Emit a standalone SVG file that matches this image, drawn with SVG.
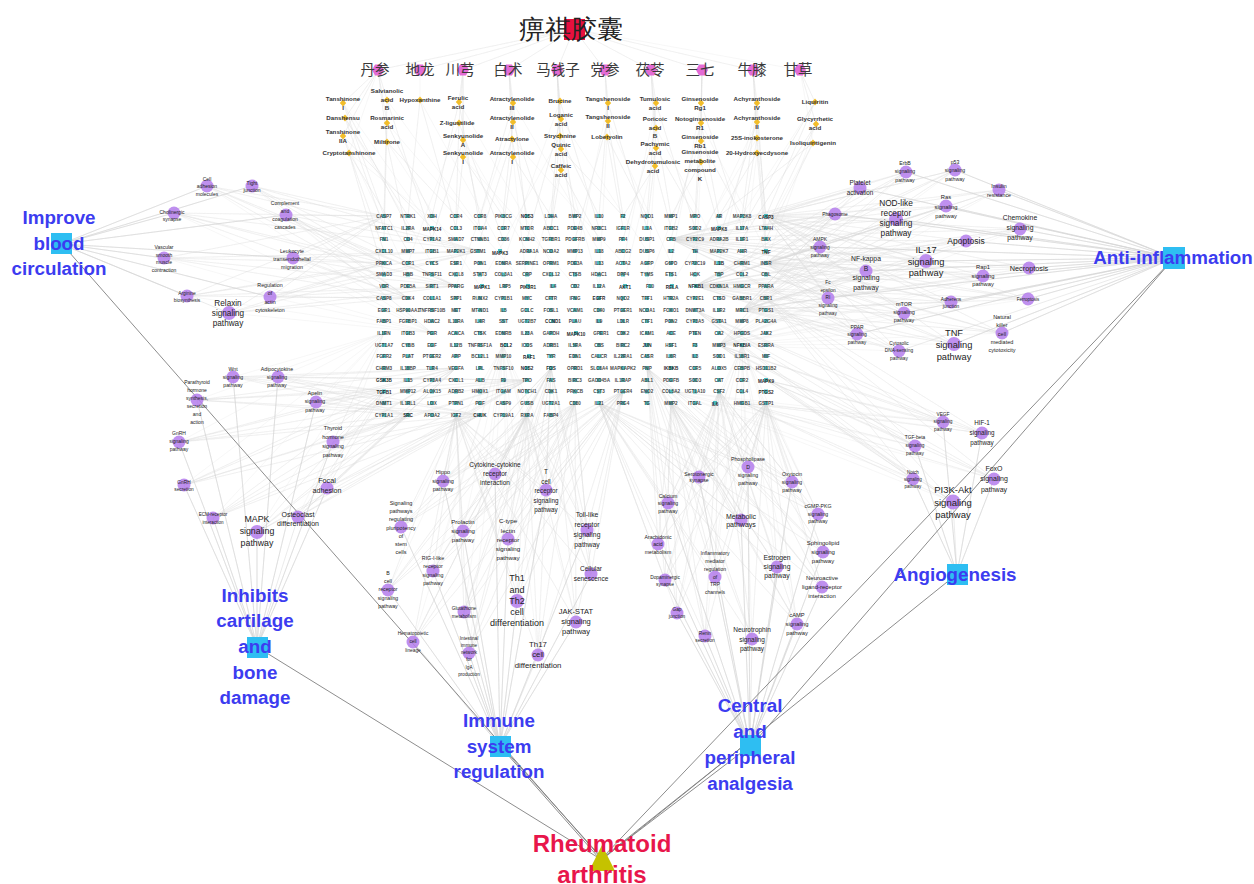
<svg xmlns="http://www.w3.org/2000/svg" width="1254" height="884" viewBox="0 0 1254 884">
<style>
text{font-family:"Liberation Sans",Arial,sans-serif}
.w{fill:none;stroke:#dadada;stroke-width:.35;opacity:.65}
.wc{fill:none;stroke:#d2d2d2;stroke-width:.45}
.m{fill:none;stroke:#808080;stroke-width:.9}
.cat text{font-weight:bold;font-size:18.8px;fill:#3c3cf0;text-anchor:middle}
.cat rect{fill:#2ebef2}
.herb text{font-family:"Noto Sans CJK SC",sans-serif;font-size:14.5px;fill:#3a3a3a;text-anchor:middle}
.herb use{fill:#e36bd5}
.cp text{font-weight:bold;font-size:6.2px;fill:#333;text-anchor:middle}
.cp use{fill:#f2bd2a}
.pw text{fill:#222;text-anchor:middle}
.pw circle{fill:#b47cec;fill-opacity:.85}
.gn text{font-size:4.6px;font-weight:bold;fill:#4a4a4a;text-anchor:middle}
.gn text.h{fill:#2a2a2a}
.gn use{fill:#2fb3b6;opacity:.85}
</style>
<defs>
<polygon id="hx" points="-6,0 -3,-5.5 3,-5.5 6,0 3,5.5 -3,5.5"/>
<path id="cd" d="M0-3.6 3.2 0 0 3.6-3.2 0Z"/>
<rect id="gm" x="-2" y="-2" width="4" height="4"/>
</defs>
<rect width="1254" height="884" fill="#fff"/>
<g id="connectors">
<path class="w" d="M574 29 378 70 574 29 420 70 574 29 463 70 574 29 509 70 574 29 557 70 574 29 605 70 574 29 651 70 574 29 702 70 574 29 753 70 574 29 800 70"/>
<path class="w" d="M378 70 343 103 378 70 387 100 378 70 345 118 378 70 387 123 378 70 343 136 378 70 387 142 378 70 349 153M420 70 420 100M463 70 459 102 463 70 459 123 463 70 463 140 463 70 463 157M509 70 513 103 509 70 513 122 509 70 512 139 509 70 513 157M557 70 560 101 557 70 561 119 557 70 560 136 557 70 561 149 557 70 561 170M605 70 608 103 605 70 608 121 605 70 607 137M651 70 656 103 651 70 656 128 651 70 656 148 651 70 655 166M702 70 701 103 702 70 701 123 702 70 701 141 702 70 701 162M753 70 757 103 753 70 757 122 753 70 757 138 753 70 757 153M800 70 815 102 800 70 816 124 800 70 813 143"/>
<path class="w" d="M343 103 384 216 343 103 408 228 343 103 456 263M387 100 384 216 387 100 432 239 387 100 480 228M420 100 408 216 420 100 456 228 420 100 503 251M345 118 384 228 345 118 408 216 345 118 432 263M387 123 384 239 387 123 432 216 387 123 527 286M343 136 384 251 343 136 432 228 343 136 408 274M387 142 408 239 387 142 456 216 387 142 480 286M349 153 384 274 349 153 408 251 349 153 456 239M459 102 432 216 459 102 480 228 459 102 551 263M459 123 456 216 459 123 503 239 459 123 408 263M463 140 480 216 463 140 432 239 463 140 527 251M463 157 456 228 463 157 503 216 463 157 575 286M513 103 480 216 513 103 527 228 513 103 599 251M513 122 503 216 513 122 551 239 513 122 456 286M512 139 527 216 512 139 480 239 512 139 623 263M513 157 551 216 513 157 503 228 513 157 527 286M560 101 551 216 560 101 599 228 560 101 503 263M561 119 575 216 561 119 527 239 561 119 647 251M560 136 599 216 560 136 551 228 560 136 480 286M561 149 575 228 561 149 623 216 561 149 599 286M561 170 551 228 561 170 599 239 561 170 527 286M608 103 599 216 608 103 647 228 608 103 575 263M608 121 623 216 608 121 575 239 608 121 671 263M607 137 623 228 607 137 647 216 607 137 599 286M656 103 647 216 656 103 695 228 656 103 623 263M656 128 671 216 656 128 623 239 656 128 719 251M656 148 647 228 656 148 695 216 656 148 623 286M655 166 671 228 655 166 623 216 655 166 647 286M701 103 695 216 701 103 742 228 701 103 671 263M701 123 719 216 701 123 671 239 701 123 766 251M701 141 695 228 701 141 742 216 701 141 647 286M701 162 719 228 701 162 671 216 701 162 695 286M757 103 742 216 757 103 766 228 757 103 719 263M757 122 766 216 757 122 719 239 757 122 695 251M757 138 742 228 757 138 766 239 757 138 671 286M757 153 719 216 757 153 766 251 757 153 742 274M815 102 766 216 815 102 742 228 815 102 719 251M816 124 766 228 816 124 742 239 816 124 766 263M813 143 766 239 813 143 719 216 813 143 742 274"/>
<path class="w" d="M207 186 384 216 207 186 384 263 207 186 408 298 207 186 456 286 207 186 480 251 207 186 432 333M252 186 384 216 252 186 384 263 252 186 408 298 252 186 456 286 252 186 480 251 252 186 432 333M174 213 384 216 174 213 384 263 174 213 408 298 174 213 456 286 174 213 480 251 174 213 432 333M286 215 384 216 286 215 384 263 286 215 408 298 286 215 456 286 286 215 480 251 286 215 432 333M164 258 384 216 164 258 384 263 164 258 408 298 164 258 456 286 164 258 480 251 164 258 432 333M293 258 384 216 293 258 384 263 293 258 408 298 293 258 456 286 293 258 480 251 293 258 432 333M187 296 384 216 187 296 384 263 187 296 408 298 187 296 456 286 187 296 480 251 187 296 432 333M270 297 384 216 270 297 384 263 270 297 408 298 270 297 456 286 270 297 480 251 270 297 432 333M229 313 384 216 229 313 384 263 229 313 408 298 229 313 456 286 229 313 480 251 229 313 432 333"/>
<path class="w" d="M906 172 766 216 906 172 766 263 906 172 742 310 906 172 695 286 906 172 671 239 906 172 719 345M955 170 766 216 955 170 766 263 955 170 742 310 955 170 695 286 955 170 671 239 955 170 719 345M860 188 766 216 860 188 766 263 860 188 742 310 860 188 695 286 860 188 671 239 860 188 719 345M999 190 766 216 999 190 766 263 999 190 742 310 999 190 695 286 999 190 671 239 999 190 719 345M896 219 766 216 896 219 766 263 896 219 742 310 896 219 695 286 896 219 671 239 896 219 719 345M946 206 766 216 946 206 766 263 946 206 742 310 946 206 695 286 946 206 671 239 946 206 719 345M835 214 766 216 835 214 766 263 835 214 742 310 835 214 695 286 835 214 671 239 835 214 719 345M1020 229 766 216 1020 229 766 263 1020 229 742 310 1020 229 695 286 1020 229 671 239 1020 229 719 345M820 247 766 216 820 247 766 263 820 247 742 310 820 247 695 286 820 247 671 239 820 247 719 345M966 241 766 216 966 241 766 263 966 241 742 310 966 241 695 286 966 241 671 239 966 241 719 345M926 261 766 216 926 261 766 263 926 261 742 310 926 261 695 286 926 261 671 239 926 261 719 345M866 271 766 216 866 271 766 263 866 271 742 310 866 271 695 286 866 271 671 239 866 271 719 345M983 276 766 216 983 276 766 263 983 276 742 310 983 276 695 286 983 276 671 239 983 276 719 345M1029 268 766 216 1029 268 766 263 1029 268 742 310 1029 268 695 286 1029 268 671 239 1029 268 719 345M828 298 766 216 828 298 766 263 828 298 742 310 828 298 695 286 828 298 671 239 828 298 719 345M951 302 766 216 951 302 766 263 951 302 742 310 951 302 695 286 951 302 671 239 951 302 719 345M1028 299 766 216 1028 299 766 263 1028 299 742 310 1028 299 695 286 1028 299 671 239 1028 299 719 345M904 313 766 216 904 313 766 263 904 313 742 310 904 313 695 286 904 313 671 239 904 313 719 345M1002 333 766 216 1002 333 766 263 1002 333 742 310 1002 333 695 286 1002 333 671 239 1002 333 719 345M857 334 766 216 857 334 766 263 857 334 742 310 857 334 695 286 857 334 671 239 857 334 719 345M954 344 766 216 954 344 766 263 954 344 742 310 954 344 695 286 954 344 671 239 954 344 719 345M899 351 766 216 899 351 766 263 899 351 742 310 899 351 695 286 899 351 671 239 899 351 719 345"/>
<path class="w" d="M233 377 384 391 233 377 408 415 233 377 480 415 233 377 456 368 233 377 527 380 233 377 384 333M278 377 384 391 278 377 408 415 278 377 480 415 278 377 456 368 278 377 527 380 278 377 384 333M197 400 384 391 197 400 408 415 197 400 480 415 197 400 456 368 197 400 527 380 197 400 384 333M316 402 384 391 316 402 408 415 316 402 480 415 316 402 456 368 316 402 527 380 316 402 384 333M333 442 384 391 333 442 408 415 333 442 480 415 333 442 456 368 333 442 527 380 333 442 384 333M179 442 384 391 179 442 408 415 179 442 480 415 179 442 456 368 179 442 527 380 179 442 384 333M184 485 384 391 184 485 408 415 184 485 480 415 184 485 456 368 184 485 527 380 184 485 384 333M327 488 384 391 327 488 408 415 327 488 480 415 327 488 456 368 327 488 527 380 327 488 384 333M213 518 384 391 213 518 408 415 213 518 480 415 213 518 456 368 213 518 527 380 213 518 384 333M257 532 384 391 257 532 408 415 257 532 480 415 257 532 456 368 257 532 527 380 257 532 384 333M298 517 384 391 298 517 408 415 298 517 480 415 298 517 456 368 298 517 527 380 298 517 384 333"/>
<path class="w" d="M443 481 456 415 443 481 527 415 443 481 575 403 443 481 623 391 443 481 551 368 443 481 503 345M495 474 456 415 495 474 527 415 495 474 575 403 495 474 623 391 495 474 551 368 495 474 503 345M546 490 456 415 546 490 527 415 546 490 575 403 546 490 623 391 546 490 551 368 546 490 503 345M401 527 456 415 401 527 527 415 401 527 575 403 401 527 623 391 401 527 551 368 401 527 503 345M463 531 456 415 463 531 527 415 463 531 575 403 463 531 623 391 463 531 551 368 463 531 503 345M508 539 456 415 508 539 527 415 508 539 575 403 508 539 623 391 508 539 551 368 508 539 503 345M587 530 456 415 587 530 527 415 587 530 575 403 587 530 623 391 587 530 551 368 587 530 503 345M433 571 456 415 433 571 527 415 433 571 575 403 433 571 623 391 433 571 551 368 433 571 503 345M388 590 456 415 388 590 527 415 388 590 575 403 388 590 623 391 388 590 551 368 388 590 503 345M591 574 456 415 591 574 527 415 591 574 575 403 591 574 623 391 591 574 551 368 591 574 503 345M517 601 456 415 517 601 527 415 517 601 575 403 517 601 623 391 517 601 551 368 517 601 503 345M464 612 456 415 464 612 527 415 464 612 575 403 464 612 623 391 464 612 551 368 464 612 503 345M576 622 456 415 576 622 527 415 576 622 575 403 576 622 623 391 576 622 551 368 576 622 503 345M413 642 456 415 413 642 527 415 413 642 575 403 413 642 623 391 413 642 551 368 413 642 503 345M469 653 456 415 469 653 527 415 469 653 575 403 469 653 623 391 469 653 551 368 469 653 503 345M538 655 456 415 538 655 527 415 538 655 575 403 538 655 623 391 538 655 551 368 538 655 503 345"/>
<path class="w" d="M748 467 599 403 748 467 671 403 748 467 719 391 748 467 766 403 748 467 647 368 748 467 742 345M699 477 599 403 699 477 671 403 699 477 719 391 699 477 766 403 699 477 647 368 699 477 742 345M792 482 599 403 792 482 671 403 792 482 719 391 792 482 766 403 792 482 647 368 792 482 742 345M668 503 599 403 668 503 671 403 668 503 719 391 668 503 766 403 668 503 647 368 668 503 742 345M818 514 599 403 818 514 671 403 818 514 719 391 818 514 766 403 818 514 647 368 818 514 742 345M741 520 599 403 741 520 671 403 741 520 719 391 741 520 766 403 741 520 647 368 741 520 742 345M658 544 599 403 658 544 671 403 658 544 719 391 658 544 766 403 658 544 647 368 658 544 742 345M823 552 599 403 823 552 671 403 823 552 719 391 823 552 766 403 823 552 647 368 823 552 742 345M715 577 599 403 715 577 671 403 715 577 719 391 715 577 766 403 715 577 647 368 715 577 742 345M777 567 599 403 777 567 671 403 777 567 719 391 777 567 766 403 777 567 647 368 777 567 742 345M665 580 599 403 665 580 671 403 665 580 719 391 665 580 766 403 665 580 647 368 665 580 742 345M822 587 599 403 822 587 671 403 822 587 719 391 822 587 766 403 822 587 647 368 822 587 742 345M677 613 599 403 677 613 671 403 677 613 719 391 677 613 766 403 677 613 647 368 677 613 742 345M797 624 599 403 797 624 671 403 797 624 719 391 797 624 766 403 797 624 647 368 797 624 742 345M705 636 599 403 705 636 671 403 705 636 719 391 705 636 766 403 705 636 647 368 705 636 742 345M752 639 599 403 752 639 671 403 752 639 719 391 752 639 766 403 752 639 647 368 752 639 742 345"/>
<path class="w" d="M943 422 766 380 943 422 742 403 943 422 719 345 943 422 695 310 943 422 766 298 943 422 671 391M982 433 766 380 982 433 742 403 982 433 719 345 982 433 695 310 982 433 766 298 982 433 671 391M915 446 766 380 915 446 742 403 915 446 719 345 915 446 695 310 915 446 766 298 915 446 671 391M994 479 766 380 994 479 742 403 994 479 719 345 994 479 695 310 994 479 766 298 994 479 671 391M913 479 766 380 913 479 742 403 913 479 719 345 913 479 695 310 913 479 766 298 913 479 671 391M953 502 766 380 953 502 742 403 953 502 719 345 953 502 695 310 953 502 766 298 953 502 671 391"/>
<path class="wc" d="M61 244 207 186 61 244 252 186 61 244 174 213 61 244 286 215 61 244 164 258 61 244 293 258 61 244 187 296 61 244 270 297 61 244 229 313"/>
<path class="wc" d="M1174 258 906 172 1174 258 955 170 1174 258 860 188 1174 258 999 190 1174 258 896 219 1174 258 946 206 1174 258 835 214 1174 258 1020 229 1174 258 820 247 1174 258 966 241 1174 258 926 261 1174 258 866 271 1174 258 983 276 1174 258 1029 268 1174 258 828 298 1174 258 951 302 1174 258 1028 299 1174 258 904 313 1174 258 1002 333 1174 258 857 334 1174 258 954 344 1174 258 899 351"/>
<path class="wc" d="M257 647 233 377 257 647 278 377 257 647 197 400 257 647 316 402 257 647 333 442 257 647 179 442 257 647 184 485 257 647 327 488 257 647 213 518 257 647 257 532 257 647 298 517"/>
<path class="wc" d="M500 746 443 481 500 746 495 474 500 746 546 490 500 746 401 527 500 746 463 531 500 746 508 539 500 746 587 530 500 746 433 571 500 746 388 590 500 746 591 574 500 746 517 601 500 746 464 612 500 746 576 622 500 746 413 642 500 746 469 653 500 746 538 655"/>
<path class="wc" d="M750 746 748 467 750 746 699 477 750 746 792 482 750 746 668 503 750 746 818 514 750 746 741 520 750 746 658 544 750 746 823 552 750 746 715 577 750 746 777 567 750 746 665 580 750 746 822 587 750 746 677 613 750 746 797 624 750 746 705 636 750 746 752 639"/>
<path class="wc" d="M957 574 943 422 957 574 982 433 957 574 915 446 957 574 994 479 957 574 913 479 957 574 953 502"/>
<path class="m" d="M62 244 601 858M257 647 602 860M500 746 599 858M504 749 602 858M750 746 603 858M747 743 605 856M957 574 604 858M1174 258 604 856M1174 258 751 746"/>
</g>
<g id="n-title"><rect x="564" y="19" width="21" height="21" fill="#e8103f"/><text x="571" y="37.5" font-family="'Noto Sans CJK SC',sans-serif" font-size="25.5" fill="#222" text-anchor="middle">痹祺胶囊</text></g>
<g class="herb">
<g id="h-danshen"><use href="#hx" x="378" y="70"/><text x="375" y="75">丹参</text></g>
<g id="h-dilong"><use href="#hx" x="420" y="70"/><text x="420" y="75">地龙</text></g>
<g id="h-chuanxiong"><use href="#hx" x="463" y="70"/><text x="460" y="75">川芎</text></g>
<g id="h-baizhu"><use href="#hx" x="509" y="70"/><text x="508" y="75">白术</text></g>
<g id="h-maqianzi"><use href="#hx" x="557" y="70"/><text x="558" y="75">马钱子</text></g>
<g id="h-dangshen"><use href="#hx" x="605" y="70"/><text x="605" y="75">党参</text></g>
<g id="h-fuling"><use href="#hx" x="651" y="70"/><text x="650" y="75">茯苓</text></g>
<g id="h-sanqi"><use href="#hx" x="702" y="70"/><text x="700" y="75">三七</text></g>
<g id="h-niuxi"><use href="#hx" x="753" y="70"/><text x="752" y="75">牛膝</text></g>
<g id="h-gancao"><use href="#hx" x="800" y="70"/><text x="798" y="75">甘草</text></g>
</g>
<g class="cp">
<g id="k1"><use href="#cd" x="343" y="103"/><text x="343" y="101.2">Tanshinone<tspan x="343" dy="8.5">I</tspan></text></g>
<g id="k2"><use href="#cd" x="387" y="100"/><text x="387" y="93.2">Salvianolic<tspan x="387" dy="8.5">acid</tspan><tspan x="387" dy="8.5">B</tspan></text></g>
<g id="k3"><use href="#cd" x="420" y="100"/><text x="420" y="102.2">Hypoxanthine</text></g>
<g id="k4"><use href="#cd" x="345" y="118"/><text x="343" y="120.2">Danshensu</text></g>
<g id="k5"><use href="#cd" x="387" y="123"/><text x="387" y="120.2">Rosmarinic<tspan x="387" dy="8.5">acid</tspan></text></g>
<g id="k6"><use href="#cd" x="343" y="136"/><text x="343" y="134.2">Tanshinone<tspan x="343" dy="8.5">IIA</tspan></text></g>
<g id="k7"><use href="#cd" x="387" y="142"/><text x="387" y="144.2">Miltirone</text></g>
<g id="k8"><use href="#cd" x="349" y="153"/><text x="349" y="155.2">Cryptotanshinone</text></g>
<g id="k9"><use href="#cd" x="459" y="102"/><text x="458" y="100.2">Ferulic<tspan x="458" dy="8.5">acid</tspan></text></g>
<g id="k10"><use href="#cd" x="459" y="123"/><text x="457" y="125.2">Z-ligustilide</text></g>
<g id="k11"><use href="#cd" x="463" y="140"/><text x="463" y="138.2">Senkyunolide<tspan x="463" dy="8.5">A</tspan></text></g>
<g id="k12"><use href="#cd" x="463" y="157"/><text x="463" y="155.2">Senkyunolide<tspan x="463" dy="8.5">I</tspan></text></g>
<g id="k13"><use href="#cd" x="513" y="103"/><text x="512" y="101.2">Atractylenolide<tspan x="512" dy="8.5">III</tspan></text></g>
<g id="k14"><use href="#cd" x="513" y="122"/><text x="512" y="120.2">Atractylenolide<tspan x="512" dy="8.5">II</tspan></text></g>
<g id="k15"><use href="#cd" x="512" y="139"/><text x="512" y="141.2">Atractylone</text></g>
<g id="k16"><use href="#cd" x="513" y="157"/><text x="512" y="155.2">Atractylenolide<tspan x="512" dy="8.5">I</tspan></text></g>
<g id="k17"><use href="#cd" x="560" y="101"/><text x="560" y="103.2">Brucine</text></g>
<g id="k18"><use href="#cd" x="561" y="119"/><text x="561" y="117.2">Loganic<tspan x="561" dy="8.5">acid</tspan></text></g>
<g id="k19"><use href="#cd" x="560" y="136"/><text x="560" y="138.2">Strychnine</text></g>
<g id="k20"><use href="#cd" x="561" y="149"/><text x="561" y="147.2">Quinic<tspan x="561" dy="8.5">acid</tspan></text></g>
<g id="k21"><use href="#cd" x="561" y="170"/><text x="561" y="168.2">Caffeic<tspan x="561" dy="8.5">acid</tspan></text></g>
<g id="k22"><use href="#cd" x="608" y="103"/><text x="608" y="101.2">Tangshenoside<tspan x="608" dy="8.5">I</tspan></text></g>
<g id="k23"><use href="#cd" x="608" y="121"/><text x="608" y="119.2">Tangshenoside<tspan x="608" dy="8.5">II</tspan></text></g>
<g id="k24"><use href="#cd" x="607" y="137"/><text x="607" y="139.2">Lobetyolin</text></g>
<g id="k25"><use href="#cd" x="656" y="103"/><text x="655" y="101.2">Tumulosic<tspan x="655" dy="8.5">acid</tspan></text></g>
<g id="k26"><use href="#cd" x="656" y="128"/><text x="655" y="121.2">Poricoic<tspan x="655" dy="8.5">acid</tspan><tspan x="655" dy="8.5">B</tspan></text></g>
<g id="k27"><use href="#cd" x="656" y="148"/><text x="655" y="146.2">Pachymic<tspan x="655" dy="8.5">acid</tspan></text></g>
<g id="k28"><use href="#cd" x="655" y="166"/><text x="653" y="164.2">Dehydrotumulosic<tspan x="653" dy="8.5">acid</tspan></text></g>
<g id="k29"><use href="#cd" x="701" y="103"/><text x="700" y="101.2">Ginsenoside<tspan x="700" dy="8.5">Rg1</tspan></text></g>
<g id="k30"><use href="#cd" x="701" y="123"/><text x="700" y="121.2">Notoginsenoside<tspan x="700" dy="8.5">R1</tspan></text></g>
<g id="k31"><use href="#cd" x="701" y="141"/><text x="700" y="139.2">Ginsenoside<tspan x="700" dy="8.5">Rb1</tspan></text></g>
<g id="k32"><use href="#cd" x="701" y="162"/><text x="700" y="154.2">Ginsenoside<tspan x="700" dy="8.8">metabolite</tspan><tspan x="700" dy="8.8">compound</tspan><tspan x="700" dy="8.8">K</tspan></text></g>
<g id="k33"><use href="#cd" x="757" y="103"/><text x="757" y="101.2">Achyranthoside<tspan x="757" dy="8.5">IV</tspan></text></g>
<g id="k34"><use href="#cd" x="757" y="122"/><text x="757" y="120.2">Achyranthoside<tspan x="757" dy="8.5">II</tspan></text></g>
<g id="k35"><use href="#cd" x="757" y="138"/><text x="757" y="140.2">25S-inokosterone</text></g>
<g id="k36"><use href="#cd" x="757" y="153"/><text x="757" y="155.2">20-Hydroxyecdysone</text></g>
<g id="k37"><use href="#cd" x="815" y="102"/><text x="815" y="104.2">Liquiritin</text></g>
<g id="k38"><use href="#cd" x="816" y="124"/><text x="815" y="121.2">Glycyrrhetic<tspan x="815" dy="8.5">acid</tspan></text></g>
<g id="k39"><use href="#cd" x="813" y="143"/><text x="813" y="145.2">Isoliquiritigenin</text></g>
</g>
<g class="gn">
<g id="g-CASP7"><use href="#gm" x="384" y="216"/><text x="384" y="217.6">CASP7</text></g>
<g id="g-NTRK1"><use href="#gm" x="408" y="216"/><text x="408" y="217.6">NTRK1</text></g>
<g id="g-XDH"><use href="#gm" x="432" y="216"/><text x="432" y="217.6">XDH</text></g>
<g id="g-CCR4"><use href="#gm" x="456" y="216"/><text x="456" y="217.6">CCR4</text></g>
<g id="g-CCR8"><use href="#gm" x="480" y="216"/><text x="480" y="217.6">CCR8</text></g>
<g id="g-PIK3CG"><use href="#gm" x="503.5" y="216"/><text x="503.5" y="217.6">PIK3CG</text></g>
<g id="g-NOS3"><use href="#gm" x="527" y="216"/><text class="h" x="527" y="218.4" font-size="6.8">NOS3</text></g>
<g id="g-LDHA"><use href="#gm" x="551" y="216"/><text x="551" y="217.6">LDHA</text></g>
<g id="g-BMP2"><use href="#gm" x="575" y="216"/><text x="575" y="217.6">BMP2</text></g>
<g id="g-IL10"><use href="#gm" x="599" y="216"/><text x="599" y="217.6">IL10</text></g>
<g id="g-F2"><use href="#gm" x="623" y="216"/><text x="623" y="217.6">F2</text></g>
<g id="g-NQO1"><use href="#gm" x="647" y="216"/><text x="647" y="217.6">NQO1</text></g>
<g id="g-MMP1"><use href="#gm" x="671" y="216"/><text x="671" y="217.6">MMP1</text></g>
<g id="g-MPO"><use href="#gm" x="695" y="216"/><text x="695" y="217.6">MPO</text></g>
<g id="g-AR"><use href="#gm" x="719" y="216"/><text x="719" y="217.6">AR</text></g>
<g id="g-MAP3K8"><use href="#gm" x="742" y="216"/><text x="742" y="217.6">MAP3K8</text></g>
<g id="g-CASP3"><use href="#gm" x="766" y="216"/><text class="h" x="766" y="218.5" font-size="7">CASP3</text></g>
<g id="g-NFATC1"><use href="#gm" x="384" y="228"/><text x="384" y="229.6">NFATC1</text></g>
<g id="g-IL2RA"><use href="#gm" x="408" y="228"/><text x="408" y="229.6">IL2RA</text></g>
<g id="g-MAPK14"><use href="#gm" x="432" y="228"/><text class="h" x="432" y="230.7" font-size="7.4">MAPK14</text></g>
<g id="g-CCL3"><use href="#gm" x="456" y="228"/><text x="456" y="229.6">CCL3</text></g>
<g id="g-ITGA4"><use href="#gm" x="480" y="228"/><text x="480" y="229.6">ITGA4</text></g>
<g id="g-CCR7"><use href="#gm" x="503.5" y="228"/><text x="503.5" y="229.6">CCR7</text></g>
<g id="g-MTOR"><use href="#gm" x="527" y="228"/><text x="527" y="229.6">MTOR</text></g>
<g id="g-ABCC1"><use href="#gm" x="551" y="228"/><text x="551" y="229.6">ABCC1</text></g>
<g id="g-PDE4B"><use href="#gm" x="575" y="228"/><text x="575" y="229.6">PDE4B</text></g>
<g id="g-NR3C1"><use href="#gm" x="599" y="228"/><text x="599" y="229.6">NR3C1</text></g>
<g id="g-IGF1R"><use href="#gm" x="623" y="228"/><text x="623" y="229.6">IGF1R</text></g>
<g id="g-IL1A"><use href="#gm" x="647" y="228"/><text x="647" y="229.6">IL1A</text></g>
<g id="g-ITGB2"><use href="#gm" x="671" y="228"/><text x="671" y="229.6">ITGB2</text></g>
<g id="g-SOD2"><use href="#gm" x="695" y="228"/><text x="695" y="229.6">SOD2</text></g>
<g id="g-MAPK8"><use href="#gm" x="719" y="228"/><text class="h" x="719" y="230.9" font-size="8">MAPK8</text></g>
<g id="g-IL17A"><use href="#gm" x="742" y="228"/><text x="742" y="229.6">IL17A</text></g>
<g id="g-LTA4H"><use href="#gm" x="766" y="228"/><text x="766" y="229.6">LTA4H</text></g>
<g id="g-FN1"><use href="#gm" x="384" y="239"/><text x="384" y="240.6">FN1</text></g>
<g id="g-CD4"><use href="#gm" x="408" y="239"/><text x="408" y="240.6">CD4</text></g>
<g id="g-CYP1A2"><use href="#gm" x="432" y="239"/><text x="432" y="240.6">CYP1A2</text></g>
<g id="g-SMAD7"><use href="#gm" x="456" y="239"/><text x="456" y="240.6">SMAD7</text></g>
<g id="g-CTNNB1"><use href="#gm" x="480" y="239"/><text x="480" y="240.6">CTNNB1</text></g>
<g id="g-CD36"><use href="#gm" x="503.5" y="239"/><text x="503.5" y="240.6">CD36</text></g>
<g id="g-KCNH2"><use href="#gm" x="527" y="239"/><text x="527" y="240.6">KCNH2</text></g>
<g id="g-TGFBR1"><use href="#gm" x="551" y="239"/><text x="551" y="240.6">TGFBR1</text></g>
<g id="g-PDGFRB"><use href="#gm" x="575" y="239"/><text x="575" y="240.6">PDGFRB</text></g>
<g id="g-MMP9"><use href="#gm" x="599" y="239"/><text x="599" y="240.6">MMP9</text></g>
<g id="g-PF4"><use href="#gm" x="623" y="239"/><text x="623" y="240.6">PF4</text></g>
<g id="g-DUSP1"><use href="#gm" x="647" y="239"/><text x="647" y="240.6">DUSP1</text></g>
<g id="g-CFB"><use href="#gm" x="671" y="239"/><text x="671" y="240.6">CFB</text></g>
<g id="g-CYP2C9"><use href="#gm" x="695" y="239"/><text x="695" y="240.6">CYP2C9</text></g>
<g id="g-ADRA2B"><use href="#gm" x="719" y="239"/><text x="719" y="240.6">ADRA2B</text></g>
<g id="g-IL1R1"><use href="#gm" x="742" y="239"/><text x="742" y="240.6">IL1R1</text></g>
<g id="g-BAX"><use href="#gm" x="766" y="239"/><text x="766" y="240.6">BAX</text></g>
<g id="g-CXCL10"><use href="#gm" x="384" y="251"/><text x="384" y="252.6">CXCL10</text></g>
<g id="g-MMP7"><use href="#gm" x="408" y="251"/><text x="408" y="252.6">MMP7</text></g>
<g id="g-ITGB1"><use href="#gm" x="432" y="251"/><text x="432" y="252.6">ITGB1</text></g>
<g id="g-MAP2K1"><use href="#gm" x="456" y="251"/><text x="456" y="252.6">MAP2K1</text></g>
<g id="g-GSTM1"><use href="#gm" x="478" y="251"/><text x="478" y="252.6">GSTM1</text></g>
<g id="g-MAPK3"><use href="#gm" x="500" y="251"/><text class="h" x="500" y="254.6" font-size="10">MAPK3</text></g>
<g id="g-ADRA1A"><use href="#gm" x="529" y="251"/><text x="529" y="252.6">ADRA1A</text></g>
<g id="g-NCOA2"><use href="#gm" x="551" y="251"/><text x="551" y="252.6">NCOA2</text></g>
<g id="g-MMP13"><use href="#gm" x="575" y="251"/><text x="575" y="252.6">MMP13</text></g>
<g id="g-IL18"><use href="#gm" x="599" y="251"/><text x="599" y="252.6">IL18</text></g>
<g id="g-ABCG2"><use href="#gm" x="623" y="251"/><text x="623" y="252.6">ABCG2</text></g>
<g id="g-DUSP6"><use href="#gm" x="647" y="251"/><text x="647" y="252.6">DUSP6</text></g>
<g id="g-IL2"><use href="#gm" x="671" y="251"/><text x="671" y="252.6">IL2</text></g>
<g id="g-TH"><use href="#gm" x="695" y="251"/><text x="695" y="252.6">TH</text></g>
<g id="g-MAP2K7"><use href="#gm" x="719" y="251"/><text x="719" y="252.6">MAP2K7</text></g>
<g id="g-AHR"><use href="#gm" x="742" y="251"/><text x="742" y="252.6">AHR</text></g>
<g id="g-TNF"><use href="#gm" x="766" y="251"/><text class="h" x="766" y="253.9" font-size="8">TNF</text></g>
<g id="g-PRKCA"><use href="#gm" x="384" y="263"/><text x="384" y="264.6">PRKCA</text></g>
<g id="g-CCR1"><use href="#gm" x="408" y="263"/><text x="408" y="264.6">CCR1</text></g>
<g id="g-CYCS"><use href="#gm" x="432" y="263"/><text x="432" y="264.6">CYCS</text></g>
<g id="g-ESR1"><use href="#gm" x="456" y="263"/><text x="456" y="264.6">ESR1</text></g>
<g id="g-PON1"><use href="#gm" x="480" y="263"/><text x="480" y="264.6">PON1</text></g>
<g id="g-EDNRA"><use href="#gm" x="503.5" y="263"/><text x="503.5" y="264.6">EDNRA</text></g>
<g id="g-SERPINE1"><use href="#gm" x="527" y="263"/><text x="527" y="264.6">SERPINE1</text></g>
<g id="g-OPRM1"><use href="#gm" x="551" y="263"/><text x="551" y="264.6">OPRM1</text></g>
<g id="g-PDE3A"><use href="#gm" x="575" y="263"/><text x="575" y="264.6">PDE3A</text></g>
<g id="g-IL13"><use href="#gm" x="599" y="263"/><text x="599" y="264.6">IL13</text></g>
<g id="g-ACTA2"><use href="#gm" x="623" y="263"/><text x="623" y="264.6">ACTA2</text></g>
<g id="g-AGRP"><use href="#gm" x="647" y="263"/><text x="647" y="264.6">AGRP</text></g>
<g id="g-G6PD"><use href="#gm" x="671" y="263"/><text x="671" y="264.6">G6PD</text></g>
<g id="g-CYP2C19"><use href="#gm" x="695" y="263"/><text x="695" y="264.6">CYP2C19</text></g>
<g id="g-IL1B"><use href="#gm" x="719" y="263"/><text class="h" x="719" y="265.3" font-size="6.5">IL1B</text></g>
<g id="g-CHRM1"><use href="#gm" x="742" y="263"/><text x="742" y="264.6">CHRM1</text></g>
<g id="g-INSR"><use href="#gm" x="766" y="263"/><text x="766" y="264.6">INSR</text></g>
<g id="g-SMAD3"><use href="#gm" x="384" y="274.5"/><text x="384" y="276.1">SMAD3</text></g>
<g id="g-HBB"><use href="#gm" x="408" y="274.5"/><text x="408" y="276.1">HBB</text></g>
<g id="g-TNFSF11"><use href="#gm" x="432" y="274.5"/><text x="432" y="276.1">TNFSF11</text></g>
<g id="g-CXCL8"><use href="#gm" x="456" y="274.5"/><text x="456" y="276.1">CXCL8</text></g>
<g id="g-STAT3"><use href="#gm" x="480" y="274.5"/><text x="480" y="276.1">STAT3</text></g>
<g id="g-COL3A1"><use href="#gm" x="503.5" y="274.5"/><text x="503.5" y="276.1">COL3A1</text></g>
<g id="g-CRP"><use href="#gm" x="527" y="274.5"/><text x="527" y="276.1">CRP</text></g>
<g id="g-CXCL12"><use href="#gm" x="551" y="274.5"/><text x="551" y="276.1">CXCL12</text></g>
<g id="g-CTSB"><use href="#gm" x="575" y="274.5"/><text x="575" y="276.1">CTSB</text></g>
<g id="g-HDAC1"><use href="#gm" x="599" y="274.5"/><text x="599" y="276.1">HDAC1</text></g>
<g id="g-DPP4"><use href="#gm" x="623" y="274.5"/><text x="623" y="276.1">DPP4</text></g>
<g id="g-TYMS"><use href="#gm" x="647" y="274.5"/><text x="647" y="276.1">TYMS</text></g>
<g id="g-ETS1"><use href="#gm" x="671" y="274.5"/><text x="671" y="276.1">ETS1</text></g>
<g id="g-HCK"><use href="#gm" x="695" y="274.5"/><text x="695" y="276.1">HCK</text></g>
<g id="g-TBP"><use href="#gm" x="719" y="274.5"/><text x="719" y="276.1">TBP</text></g>
<g id="g-CCL2"><use href="#gm" x="742" y="274.5"/><text x="742" y="276.1">CCL2</text></g>
<g id="g-CBL"><use href="#gm" x="766" y="274.5"/><text x="766" y="276.1">CBL</text></g>
<g id="g-VDR"><use href="#gm" x="384" y="286"/><text x="384" y="287.6">VDR</text></g>
<g id="g-PDE5A"><use href="#gm" x="408" y="286"/><text x="408" y="287.6">PDE5A</text></g>
<g id="g-SIRT1"><use href="#gm" x="432" y="286"/><text x="432" y="287.6">SIRT1</text></g>
<g id="g-PPARG"><use href="#gm" x="456" y="286"/><text x="456" y="287.6">PPARG</text></g>
<g id="g-MAPK1"><use href="#gm" x="482" y="286"/><text class="h" x="482" y="289.1" font-size="8.5">MAPK1</text></g>
<g id="g-LRP5"><use href="#gm" x="505" y="286"/><text x="505" y="287.6">LRP5</text></g>
<g id="g-PIK3R1"><use href="#gm" x="528" y="286"/><text class="h" x="528" y="288.8" font-size="7.8">PIK3R1</text></g>
<g id="g-IL4"><use href="#gm" x="553" y="286"/><text x="553" y="287.6">IL4</text></g>
<g id="g-CD2"><use href="#gm" x="575" y="286"/><text x="575" y="287.6">CD2</text></g>
<g id="g-IL12A"><use href="#gm" x="599" y="286"/><text x="599" y="287.6">IL12A</text></g>
<g id="g-AKT1"><use href="#gm" x="625" y="286"/><text class="h" x="625" y="289.4" font-size="9.5">AKT1</text></g>
<g id="g-F10"><use href="#gm" x="650" y="286"/><text x="650" y="287.6">F10</text></g>
<g id="g-RELA"><use href="#gm" x="672" y="286"/><text class="h" x="672" y="289.1" font-size="8.5">RELA</text></g>
<g id="g-NFKB1"><use href="#gm" x="696" y="286"/><text class="h" x="696" y="288.3" font-size="6.5">NFKB1</text></g>
<g id="g-CDKN1A"><use href="#gm" x="719" y="286"/><text x="719" y="287.6">CDKN1A</text></g>
<g id="g-HMGCR"><use href="#gm" x="742" y="286"/><text x="742" y="287.6">HMGCR</text></g>
<g id="g-PPARA"><use href="#gm" x="766" y="286"/><text x="766" y="287.6">PPARA</text></g>
<g id="g-CASP8"><use href="#gm" x="384" y="298"/><text x="384" y="299.6">CASP8</text></g>
<g id="g-CDK4"><use href="#gm" x="408" y="298"/><text x="408" y="299.6">CDK4</text></g>
<g id="g-COL1A1"><use href="#gm" x="432" y="298"/><text x="432" y="299.6">COL1A1</text></g>
<g id="g-SPP1"><use href="#gm" x="456" y="298"/><text x="456" y="299.6">SPP1</text></g>
<g id="g-RUNX2"><use href="#gm" x="480" y="298"/><text x="480" y="299.6">RUNX2</text></g>
<g id="g-CYP1B1"><use href="#gm" x="503.5" y="298"/><text x="503.5" y="299.6">CYP1B1</text></g>
<g id="g-MYC"><use href="#gm" x="527" y="298"/><text x="527" y="299.6">MYC</text></g>
<g id="g-CFTR"><use href="#gm" x="551" y="298"/><text x="551" y="299.6">CFTR</text></g>
<g id="g-IFNG"><use href="#gm" x="575" y="298"/><text x="575" y="299.6">IFNG</text></g>
<g id="g-EGFR"><use href="#gm" x="599" y="298"/><text class="h" x="599" y="300.2" font-size="6.2">EGFR</text></g>
<g id="g-NQO2"><use href="#gm" x="623" y="298"/><text x="623" y="299.6">NQO2</text></g>
<g id="g-TFF1"><use href="#gm" x="647" y="298"/><text x="647" y="299.6">TFF1</text></g>
<g id="g-HTR2A"><use href="#gm" x="671" y="298"/><text x="671" y="299.6">HTR2A</text></g>
<g id="g-CYP2E1"><use href="#gm" x="695" y="298"/><text x="695" y="299.6">CYP2E1</text></g>
<g id="g-CTSD"><use href="#gm" x="719" y="298"/><text x="719" y="299.6">CTSD</text></g>
<g id="g-GABBR1"><use href="#gm" x="742" y="298"/><text x="742" y="299.6">GABBR1</text></g>
<g id="g-CBR1"><use href="#gm" x="766" y="298"/><text x="766" y="299.6">CBR1</text></g>
<g id="g-EGR1"><use href="#gm" x="384" y="310"/><text x="384" y="311.6">EGR1</text></g>
<g id="g-HSP90AA1"><use href="#gm" x="408" y="310"/><text x="408" y="311.6">HSP90AA1</text></g>
<g id="g-TNFRSF10B"><use href="#gm" x="432" y="310"/><text x="432" y="311.6">TNFRSF10B</text></g>
<g id="g-MET"><use href="#gm" x="456" y="310"/><text x="456" y="311.6">MET</text></g>
<g id="g-MT-ND1"><use href="#gm" x="480" y="310"/><text x="480" y="311.6">MT-ND1</text></g>
<g id="g-IL5"><use href="#gm" x="503.5" y="310"/><text x="503.5" y="311.6">IL5</text></g>
<g id="g-GCLC"><use href="#gm" x="527" y="310"/><text x="527" y="311.6">GCLC</text></g>
<g id="g-FOSL1"><use href="#gm" x="551" y="310"/><text x="551" y="311.6">FOSL1</text></g>
<g id="g-VCAM1"><use href="#gm" x="575" y="310"/><text x="575" y="311.6">VCAM1</text></g>
<g id="g-CD40"><use href="#gm" x="599" y="310"/><text x="599" y="311.6">CD40</text></g>
<g id="g-PTGER1"><use href="#gm" x="623" y="310"/><text x="623" y="311.6">PTGER1</text></g>
<g id="g-NCOA1"><use href="#gm" x="647" y="310"/><text x="647" y="311.6">NCOA1</text></g>
<g id="g-FOXO1"><use href="#gm" x="671" y="310"/><text x="671" y="311.6">FOXO1</text></g>
<g id="g-DNMT3A"><use href="#gm" x="695" y="310"/><text x="695" y="311.6">DNMT3A</text></g>
<g id="g-IL1R2"><use href="#gm" x="719" y="310"/><text x="719" y="311.6">IL1R2</text></g>
<g id="g-MRC1"><use href="#gm" x="742" y="310"/><text x="742" y="311.6">MRC1</text></g>
<g id="g-PTGS1"><use href="#gm" x="766" y="310"/><text x="766" y="311.6">PTGS1</text></g>
<g id="g-FABP1"><use href="#gm" x="384" y="321"/><text x="384" y="322.6">FABP1</text></g>
<g id="g-FGFBP1"><use href="#gm" x="408" y="321"/><text x="408" y="322.6">FGFBP1</text></g>
<g id="g-HDAC2"><use href="#gm" x="432" y="321"/><text x="432" y="322.6">HDAC2</text></g>
<g id="g-IL10RA"><use href="#gm" x="456" y="321"/><text x="456" y="322.6">IL10RA</text></g>
<g id="g-IL4R"><use href="#gm" x="480" y="321"/><text x="480" y="322.6">IL4R</text></g>
<g id="g-SST"><use href="#gm" x="503.5" y="321"/><text x="503.5" y="322.6">SST</text></g>
<g id="g-UGT2B7"><use href="#gm" x="527" y="321"/><text x="527" y="322.6">UGT2B7</text></g>
<g id="g-CCND1"><use href="#gm" x="553" y="321"/><text class="h" x="553" y="323.1" font-size="5.8">CCND1</text></g>
<g id="g-PLAU"><use href="#gm" x="575" y="321"/><text x="575" y="322.6">PLAU</text></g>
<g id="g-IL9"><use href="#gm" x="599" y="321"/><text x="599" y="322.6">IL9</text></g>
<g id="g-LDLR"><use href="#gm" x="623" y="321"/><text x="623" y="322.6">LDLR</text></g>
<g id="g-CTF1"><use href="#gm" x="647" y="321"/><text x="647" y="322.6">CTF1</text></g>
<g id="g-PON2"><use href="#gm" x="671" y="321"/><text x="671" y="322.6">PON2</text></g>
<g id="g-CYP3A5"><use href="#gm" x="695" y="321"/><text x="695" y="322.6">CYP3A5</text></g>
<g id="g-GSTA1"><use href="#gm" x="719" y="321"/><text x="719" y="322.6">GSTA1</text></g>
<g id="g-MMP8"><use href="#gm" x="742" y="321"/><text x="742" y="322.6">MMP8</text></g>
<g id="g-PLA2G4A"><use href="#gm" x="766" y="321"/><text x="766" y="322.6">PLA2G4A</text></g>
<g id="g-IL1RN"><use href="#gm" x="384" y="333"/><text x="384" y="334.6">IL1RN</text></g>
<g id="g-ITGB3"><use href="#gm" x="408" y="333"/><text x="408" y="334.6">ITGB3</text></g>
<g id="g-PGR"><use href="#gm" x="432" y="333"/><text x="432" y="334.6">PGR</text></g>
<g id="g-ACACA"><use href="#gm" x="456" y="333"/><text x="456" y="334.6">ACACA</text></g>
<g id="g-CTSK"><use href="#gm" x="480" y="333"/><text x="480" y="334.6">CTSK</text></g>
<g id="g-EDNRB"><use href="#gm" x="503.5" y="333"/><text x="503.5" y="334.6">EDNRB</text></g>
<g id="g-IL23A"><use href="#gm" x="527" y="333"/><text x="527" y="334.6">IL23A</text></g>
<g id="g-GAPDH"><use href="#gm" x="551" y="333"/><text x="551" y="334.6">GAPDH</text></g>
<g id="g-MAPK10"><use href="#gm" x="576" y="333"/><text class="h" x="576" y="335.7" font-size="7.5">MAPK10</text></g>
<g id="g-GPER1"><use href="#gm" x="601" y="333"/><text x="601" y="334.6">GPER1</text></g>
<g id="g-CDK2"><use href="#gm" x="623" y="333"/><text x="623" y="334.6">CDK2</text></g>
<g id="g-ICAM1"><use href="#gm" x="647" y="333"/><text x="647" y="334.6">ICAM1</text></g>
<g id="g-ACE"><use href="#gm" x="671" y="333"/><text x="671" y="334.6">ACE</text></g>
<g id="g-PTEN"><use href="#gm" x="695" y="333"/><text x="695" y="334.6">PTEN</text></g>
<g id="g-CA2"><use href="#gm" x="719" y="333"/><text x="719" y="334.6">CA2</text></g>
<g id="g-HPGDS"><use href="#gm" x="742" y="333"/><text x="742" y="334.6">HPGDS</text></g>
<g id="g-JAK2"><use href="#gm" x="766" y="333"/><text x="766" y="334.6">JAK2</text></g>
<g id="g-UGT1A7"><use href="#gm" x="384" y="345"/><text x="384" y="346.6">UGT1A7</text></g>
<g id="g-CYBB"><use href="#gm" x="408" y="345"/><text x="408" y="346.6">CYBB</text></g>
<g id="g-EGF"><use href="#gm" x="432" y="345"/><text x="432" y="346.6">EGF</text></g>
<g id="g-IL12B"><use href="#gm" x="456" y="345"/><text x="456" y="346.6">IL12B</text></g>
<g id="g-TNFRSF1A"><use href="#gm" x="480" y="345"/><text x="480" y="346.6">TNFRSF1A</text></g>
<g id="g-BCL2"><use href="#gm" x="506" y="345"/><text class="h" x="506" y="347.3" font-size="6.5">BCL2</text></g>
<g id="g-ICOS"><use href="#gm" x="527" y="345"/><text x="527" y="346.6">ICOS</text></g>
<g id="g-ADRB1"><use href="#gm" x="551" y="345"/><text x="551" y="346.6">ADRB1</text></g>
<g id="g-IL5RA"><use href="#gm" x="575" y="345"/><text x="575" y="346.6">IL5RA</text></g>
<g id="g-CBS"><use href="#gm" x="599" y="345"/><text x="599" y="346.6">CBS</text></g>
<g id="g-BIRC2"><use href="#gm" x="623" y="345"/><text x="623" y="346.6">BIRC2</text></g>
<g id="g-JUN"><use href="#gm" x="647" y="345"/><text class="h" x="647" y="347.3" font-size="6.5">JUN</text></g>
<g id="g-HSF1"><use href="#gm" x="671" y="345"/><text x="671" y="346.6">HSF1</text></g>
<g id="g-F3"><use href="#gm" x="695" y="345"/><text x="695" y="346.6">F3</text></g>
<g id="g-MMP3"><use href="#gm" x="719" y="345"/><text x="719" y="346.6">MMP3</text></g>
<g id="g-NFKBIA"><use href="#gm" x="742" y="345"/><text class="h" x="742" y="347.3" font-size="6.5">NFKBIA</text></g>
<g id="g-ESRRA"><use href="#gm" x="766" y="345"/><text x="766" y="346.6">ESRRA</text></g>
<g id="g-FGFR2"><use href="#gm" x="384" y="356"/><text x="384" y="357.6">FGFR2</text></g>
<g id="g-PLAT"><use href="#gm" x="408" y="356"/><text x="408" y="357.6">PLAT</text></g>
<g id="g-PTGER2"><use href="#gm" x="432" y="356"/><text x="432" y="357.6">PTGER2</text></g>
<g id="g-APP"><use href="#gm" x="456" y="356"/><text x="456" y="357.6">APP</text></g>
<g id="g-BCL2L1"><use href="#gm" x="480" y="356"/><text x="480" y="357.6">BCL2L1</text></g>
<g id="g-MMP10"><use href="#gm" x="503.5" y="356"/><text x="503.5" y="357.6">MMP10</text></g>
<g id="g-RAF1"><use href="#gm" x="529" y="356"/><text class="h" x="529" y="358.5" font-size="7">RAF1</text></g>
<g id="g-TYR"><use href="#gm" x="551" y="356"/><text x="551" y="357.6">TYR</text></g>
<g id="g-EDN1"><use href="#gm" x="575" y="356"/><text x="575" y="357.6">EDN1</text></g>
<g id="g-CALCR"><use href="#gm" x="599" y="356"/><text x="599" y="357.6">CALCR</text></g>
<g id="g-IL22RA1"><use href="#gm" x="623" y="356"/><text x="623" y="357.6">IL22RA1</text></g>
<g id="g-CASR"><use href="#gm" x="647" y="356"/><text x="647" y="357.6">CASR</text></g>
<g id="g-IL6R"><use href="#gm" x="671" y="356"/><text x="671" y="357.6">IL6R</text></g>
<g id="g-IL3"><use href="#gm" x="695" y="356"/><text x="695" y="357.6">IL3</text></g>
<g id="g-SOD1"><use href="#gm" x="719" y="356"/><text x="719" y="357.6">SOD1</text></g>
<g id="g-IL18R1"><use href="#gm" x="742" y="356"/><text x="742" y="357.6">IL18R1</text></g>
<g id="g-MIF"><use href="#gm" x="766" y="356"/><text x="766" y="357.6">MIF</text></g>
<g id="g-CHRM3"><use href="#gm" x="384" y="368"/><text x="384" y="369.6">CHRM3</text></g>
<g id="g-IL18BP"><use href="#gm" x="408" y="368"/><text x="408" y="369.6">IL18BP</text></g>
<g id="g-TLR4"><use href="#gm" x="432" y="368"/><text x="432" y="369.6">TLR4</text></g>
<g id="g-VEGFA"><use href="#gm" x="456" y="368"/><text x="456" y="369.6">VEGFA</text></g>
<g id="g-LPL"><use href="#gm" x="480" y="368"/><text x="480" y="369.6">LPL</text></g>
<g id="g-TNFSF10"><use href="#gm" x="503.5" y="368"/><text x="503.5" y="369.6">TNFSF10</text></g>
<g id="g-NOS2"><use href="#gm" x="527" y="368"/><text class="h" x="527" y="370.2" font-size="6">NOS2</text></g>
<g id="g-FOS"><use href="#gm" x="551" y="368"/><text class="h" x="551" y="370.3" font-size="6.5">FOS</text></g>
<g id="g-OPRD1"><use href="#gm" x="575" y="368"/><text x="575" y="369.6">OPRD1</text></g>
<g id="g-SLC6A4"><use href="#gm" x="599" y="368"/><text x="599" y="369.6">SLC6A4</text></g>
<g id="g-MAPKAPK2"><use href="#gm" x="623" y="368"/><text x="623" y="369.6">MAPKAPK2</text></g>
<g id="g-PNP"><use href="#gm" x="647" y="368"/><text x="647" y="369.6">PNP</text></g>
<g id="g-IKBKB"><use href="#gm" x="671" y="368"/><text class="h" x="671" y="370.2" font-size="6">IKBKB</text></g>
<g id="g-CCR5"><use href="#gm" x="695" y="368"/><text x="695" y="369.6">CCR5</text></g>
<g id="g-ALOX5"><use href="#gm" x="719" y="368"/><text x="719" y="369.6">ALOX5</text></g>
<g id="g-CEBPB"><use href="#gm" x="742" y="368"/><text x="742" y="369.6">CEBPB</text></g>
<g id="g-HSD11B2"><use href="#gm" x="766" y="368"/><text x="766" y="369.6">HSD11B2</text></g>
<g id="g-GSK3B"><use href="#gm" x="384" y="380"/><text class="h" x="384" y="382.2" font-size="6">GSK3B</text></g>
<g id="g-IL15"><use href="#gm" x="408" y="380"/><text x="408" y="381.6">IL15</text></g>
<g id="g-CYP3A4"><use href="#gm" x="432" y="380"/><text x="432" y="381.6">CYP3A4</text></g>
<g id="g-CXCL1"><use href="#gm" x="456" y="380"/><text x="456" y="381.6">CXCL1</text></g>
<g id="g-ALB"><use href="#gm" x="480" y="380"/><text x="480" y="381.6">ALB</text></g>
<g id="g-F9"><use href="#gm" x="503.5" y="380"/><text x="503.5" y="381.6">F9</text></g>
<g id="g-TPO"><use href="#gm" x="527" y="380"/><text x="527" y="381.6">TPO</text></g>
<g id="g-FAS"><use href="#gm" x="551" y="380"/><text x="551" y="381.6">FAS</text></g>
<g id="g-BIRC3"><use href="#gm" x="575" y="380"/><text x="575" y="381.6">BIRC3</text></g>
<g id="g-GADD45A"><use href="#gm" x="599" y="380"/><text x="599" y="381.6">GADD45A</text></g>
<g id="g-IL1RAP"><use href="#gm" x="623" y="380"/><text x="623" y="381.6">IL1RAP</text></g>
<g id="g-ABL1"><use href="#gm" x="647" y="380"/><text x="647" y="381.6">ABL1</text></g>
<g id="g-PDGFB"><use href="#gm" x="671" y="380"/><text x="671" y="381.6">PDGFB</text></g>
<g id="g-SOD3"><use href="#gm" x="695" y="380"/><text x="695" y="381.6">SOD3</text></g>
<g id="g-CAT"><use href="#gm" x="719" y="380"/><text x="719" y="381.6">CAT</text></g>
<g id="g-CCR2"><use href="#gm" x="742" y="380"/><text x="742" y="381.6">CCR2</text></g>
<g id="g-MAPK9"><use href="#gm" x="766" y="380"/><text class="h" x="766" y="382.6" font-size="7.2">MAPK9</text></g>
<g id="g-TGFB1"><use href="#gm" x="384" y="391.5"/><text class="h" x="384" y="393.6" font-size="5.8">TGFB1</text></g>
<g id="g-MMP12"><use href="#gm" x="408" y="391.5"/><text x="408" y="393.1">MMP12</text></g>
<g id="g-ALOX15"><use href="#gm" x="432" y="391.5"/><text x="432" y="393.1">ALOX15</text></g>
<g id="g-ADRB2"><use href="#gm" x="456" y="391.5"/><text x="456" y="393.1">ADRB2</text></g>
<g id="g-HMOX1"><use href="#gm" x="480" y="391.5"/><text x="480" y="393.1">HMOX1</text></g>
<g id="g-ITGAM"><use href="#gm" x="503.5" y="391.5"/><text x="503.5" y="393.1">ITGAM</text></g>
<g id="g-NOTCH1"><use href="#gm" x="527" y="391.5"/><text x="527" y="393.1">NOTCH1</text></g>
<g id="g-CDK1"><use href="#gm" x="551" y="391.5"/><text x="551" y="393.1">CDK1</text></g>
<g id="g-PRKCB"><use href="#gm" x="575" y="391.5"/><text x="575" y="393.1">PRKCB</text></g>
<g id="g-CST3"><use href="#gm" x="599" y="391.5"/><text x="599" y="393.1">CST3</text></g>
<g id="g-PTGER4"><use href="#gm" x="623" y="391.5"/><text x="623" y="393.1">PTGER4</text></g>
<g id="g-ENO2"><use href="#gm" x="647" y="391.5"/><text x="647" y="393.1">ENO2</text></g>
<g id="g-COL5A2"><use href="#gm" x="671" y="391.5"/><text x="671" y="393.1">COL5A2</text></g>
<g id="g-UGT1A10"><use href="#gm" x="695" y="391.5"/><text x="695" y="393.1">UGT1A10</text></g>
<g id="g-CSF2"><use href="#gm" x="719" y="391.5"/><text x="719" y="393.1">CSF2</text></g>
<g id="g-CCL4"><use href="#gm" x="742" y="391.5"/><text x="742" y="393.1">CCL4</text></g>
<g id="g-PTGS2"><use href="#gm" x="766" y="391.5"/><text class="h" x="766" y="393.8" font-size="6.5">PTGS2</text></g>
<g id="g-DNMT1"><use href="#gm" x="384" y="403"/><text x="384" y="404.6">DNMT1</text></g>
<g id="g-IL1RL1"><use href="#gm" x="408" y="403"/><text x="408" y="404.6">IL1RL1</text></g>
<g id="g-LOX"><use href="#gm" x="432" y="403"/><text x="432" y="404.6">LOX</text></g>
<g id="g-PTPN1"><use href="#gm" x="456" y="403"/><text x="456" y="404.6">PTPN1</text></g>
<g id="g-PGF"><use href="#gm" x="480" y="403"/><text x="480" y="404.6">PGF</text></g>
<g id="g-CASP9"><use href="#gm" x="503.5" y="403"/><text x="503.5" y="404.6">CASP9</text></g>
<g id="g-GUSB"><use href="#gm" x="527" y="403"/><text x="527" y="404.6">GUSB</text></g>
<g id="g-UGT2A1"><use href="#gm" x="551" y="403"/><text x="551" y="404.6">UGT2A1</text></g>
<g id="g-CD80"><use href="#gm" x="575" y="403"/><text x="575" y="404.6">CD80</text></g>
<g id="g-IL21"><use href="#gm" x="599" y="403"/><text x="599" y="404.6">IL21</text></g>
<g id="g-PRG4"><use href="#gm" x="623" y="403"/><text x="623" y="404.6">PRG4</text></g>
<g id="g-TG"><use href="#gm" x="647" y="403"/><text x="647" y="404.6">TG</text></g>
<g id="g-MMP2"><use href="#gm" x="671" y="403"/><text x="671" y="404.6">MMP2</text></g>
<g id="g-ITGAL"><use href="#gm" x="695" y="403"/><text x="695" y="404.6">ITGAL</text></g>
<g id="g-IL6"><use href="#gm" x="715" y="403"/><text class="h" x="715" y="405.5" font-size="7">IL6</text></g>
<g id="g-HMGB1"><use href="#gm" x="742" y="403"/><text x="742" y="404.6">HMGB1</text></g>
<g id="g-GSTP1"><use href="#gm" x="766" y="403"/><text x="766" y="404.6">GSTP1</text></g>
<g id="g-CYP1A1"><use href="#gm" x="384" y="415"/><text x="384" y="416.6">CYP1A1</text></g>
<g id="g-SRC"><use href="#gm" x="408" y="415"/><text class="h" x="408" y="417.2" font-size="6">SRC</text></g>
<g id="g-APOA2"><use href="#gm" x="432" y="415"/><text x="432" y="416.6">APOA2</text></g>
<g id="g-IGF2"><use href="#gm" x="456" y="415"/><text x="456" y="416.6">IGF2</text></g>
<g id="g-CHUK"><use href="#gm" x="480" y="415"/><text class="h" x="480" y="417.2" font-size="6">CHUK</text></g>
<g id="g-CYP19A1"><use href="#gm" x="503.5" y="415"/><text x="503.5" y="416.6">CYP19A1</text></g>
<g id="g-RXRA"><use href="#gm" x="527" y="415"/><text x="527" y="416.6">RXRA</text></g>
<g id="g-FABP4"><use href="#gm" x="551" y="415"/><text x="551" y="416.6">FABP4</text></g>
</g>
<g class="pw">
<g id="p-cell-adhesion"><circle cx="207" cy="186" r="6.5"/><text font-size="5" x="207" y="180.8">Cell<tspan x="207" dy="7.5">adhesion</tspan><tspan x="207" dy="7.5">molecules</tspan></text></g>
<g id="p-tight-junction"><circle cx="252" cy="186" r="6.5"/><text font-size="5" x="252" y="184.8">Tight<tspan x="252" dy="7">junction</tspan></text></g>
<g id="p-cholinergic"><circle cx="174" cy="213" r="6.5"/><text font-size="5" x="172" y="213.8">Cholinergic<tspan x="172" dy="7">synapse</tspan></text></g>
<g id="p-complement"><circle cx="286" cy="215" r="6.5"/><text font-size="5" x="285" y="204.8">Complement<tspan x="285" dy="8">and</tspan><tspan x="285" dy="8">coagulation</tspan><tspan x="285" dy="8">cascades</tspan></text></g>
<g id="p-vascular"><circle cx="164" cy="258" r="6.5"/><text font-size="5" x="164" y="248.8">Vascular<tspan x="164" dy="7.8">smooth</tspan><tspan x="164" dy="7.8">muscle</tspan><tspan x="164" dy="7.8">contraction</tspan></text></g>
<g id="p-leukocyte"><circle cx="293" cy="258" r="6.5"/><text font-size="5.3" x="292" y="252.9">Leukocyte<tspan x="292" dy="8">transendothelial</tspan><tspan x="292" dy="8">migration</tspan></text></g>
<g id="p-arginine"><circle cx="187" cy="296" r="6.5"/><text font-size="4.8" x="187" y="294.7">Arginine<tspan x="187" dy="7">biosynthesis</tspan></text></g>
<g id="p-actin"><circle cx="270" cy="297" r="6.5"/><text font-size="5.3" x="270" y="286.9">Regulation<tspan x="270" dy="8.3">of</tspan><tspan x="270" dy="8.3">actin</tspan><tspan x="270" dy="8.3">cytoskeleton</tspan></text></g>
<g id="p-relaxin"><circle cx="229" cy="313" r="7"/><text font-size="8.2" x="228" y="306">Relaxin<tspan x="228" dy="10">signaling</tspan><tspan x="228" dy="10">pathway</tspan></text></g>
<g id="p-erbb"><circle cx="906" cy="172" r="6.5"/><text font-size="5.2" x="905" y="164.9">ErbB<tspan x="905" dy="8.5">signaling</tspan><tspan x="905" dy="8.5">pathway</tspan></text></g>
<g id="p-p53"><circle cx="955" cy="170" r="6.5"/><text font-size="5.2" x="955" y="163.9">p53<tspan x="955" dy="8.5">signaling</tspan><tspan x="955" dy="8.5">pathway</tspan></text></g>
<g id="p-platelet"><circle cx="860" cy="188" r="6.5"/><text font-size="6.3" x="860" y="185.3">Platelet<tspan x="860" dy="9.5">activation</tspan></text></g>
<g id="p-insulin"><circle cx="999" cy="190" r="6.5"/><text font-size="5.3" x="999" y="187.9">Insulin<tspan x="999" dy="9">resistance</tspan></text></g>
<g id="p-nod"><circle cx="896" cy="219" r="7"/><text font-size="8.3" x="896" y="206">NOD-like<tspan x="896" dy="10">receptor</tspan><tspan x="896" dy="10">signaling</tspan><tspan x="896" dy="10">pathway</tspan></text></g>
<g id="p-ras"><circle cx="946" cy="206" r="6.5"/><text font-size="5.8" x="946" y="199.1">Ras<tspan x="946" dy="9.5">signaling</tspan><tspan x="946" dy="9.5">pathway</tspan></text></g>
<g id="p-phagosome"><circle cx="835" cy="214" r="6.5"/><text font-size="4.8" x="835" y="215.7">Phagosome</text></g>
<g id="p-chemokine"><circle cx="1020" cy="229" r="6.5"/><text font-size="6.8" x="1020" y="220.4">Chemokine<tspan x="1020" dy="10">signaling</tspan><tspan x="1020" dy="10">pathway</tspan></text></g>
<g id="p-ampk"><circle cx="820" cy="247" r="6.5"/><text font-size="5" x="820" y="240.8">AMPK<tspan x="820" dy="8">signaling</tspan><tspan x="820" dy="8">pathway</tspan></text></g>
<g id="p-apoptosis"><circle cx="966" cy="241" r="6.5"/><text font-size="8.5" x="966" y="244">Apoptosis</text></g>
<g id="p-il17"><circle cx="926" cy="261" r="7"/><text font-size="9.3" x="926" y="253.3">IL-17<tspan x="926" dy="11.5">signaling</tspan><tspan x="926" dy="11.5">pathway</tspan></text></g>
<g id="p-nfkb"><circle cx="866" cy="271" r="6.5"/><text font-size="6.8" x="866" y="261.4">NF-kappa<tspan x="866" dy="9.5">B</tspan><tspan x="866" dy="9.5">signaling</tspan><tspan x="866" dy="9.5">pathway</tspan></text></g>
<g id="p-rap1"><circle cx="983" cy="276" r="6.5"/><text font-size="5.8" x="983" y="269.1">Rap1<tspan x="983" dy="8.5">signaling</tspan><tspan x="983" dy="8.5">pathway</tspan></text></g>
<g id="p-necroptosis"><circle cx="1029" cy="268" r="6.5"/><text font-size="7.3" x="1029" y="270.6">Necroptosis</text></g>
<g id="p-fceri"><circle cx="828" cy="298" r="6.5"/><text font-size="4.8" x="828" y="283.7">Fc<tspan x="828" dy="7.8">epsilon</tspan><tspan x="828" dy="7.8">RI</tspan><tspan x="828" dy="7.8">signaling</tspan><tspan x="828" dy="7.8">pathway</tspan></text></g>
<g id="p-adherens"><circle cx="951" cy="302" r="6.5"/><text font-size="4.8" x="951" y="300.7">Adherens<tspan x="951" dy="7.5">junction</tspan></text></g>
<g id="p-ferroptosis"><circle cx="1028" cy="299" r="6.5"/><text font-size="4.5" x="1028" y="300.6">Ferroptosis</text></g>
<g id="p-mtor"><circle cx="904" cy="313" r="6.5"/><text font-size="5.5" x="904" y="306">mTOR<tspan x="904" dy="8.2">signaling</tspan><tspan x="904" dy="8.2">pathway</tspan></text></g>
<g id="p-nk"><circle cx="1002" cy="333" r="6.5"/><text font-size="5.5" x="1002" y="319">Natural<tspan x="1002" dy="8.3">killer</tspan><tspan x="1002" dy="8.3">cell</tspan><tspan x="1002" dy="8.3">mediated</tspan><tspan x="1002" dy="8.3">cytotoxicity</tspan></text></g>
<g id="p-ppar"><circle cx="857" cy="334" r="6.5"/><text font-size="5" x="857" y="328.8">PPAR<tspan x="857" dy="7.5">signaling</tspan><tspan x="857" dy="7.5">pathway</tspan></text></g>
<g id="p-tnf"><circle cx="954" cy="344" r="7"/><text font-size="9.3" x="954" y="336.3">TNF<tspan x="954" dy="11.7">signaling</tspan><tspan x="954" dy="11.7">pathway</tspan></text></g>
<g id="p-cytosolic"><circle cx="899" cy="351" r="6.5"/><text font-size="4.8" x="899" y="344.7">Cytosolic<tspan x="899" dy="7.5">DNA-sensing</tspan><tspan x="899" dy="7.5">pathway</tspan></text></g>
<g id="p-wnt"><circle cx="233" cy="377" r="6.5"/><text font-size="5.2" x="233" y="370.9">Wnt<tspan x="233" dy="8">signaling</tspan><tspan x="233" dy="8">pathway</tspan></text></g>
<g id="p-adipocytokine"><circle cx="278" cy="377" r="6.5"/><text font-size="5.2" x="277" y="370.9">Adipocytokine<tspan x="277" dy="8">signaling</tspan><tspan x="277" dy="8">pathway</tspan></text></g>
<g id="p-parathyroid"><circle cx="197" cy="400" r="6.5"/><text font-size="5" x="197" y="383.8">Parathyroid<tspan x="197" dy="8">hormone</tspan><tspan x="197" dy="8">synthesis,</tspan><tspan x="197" dy="8">secretion</tspan><tspan x="197" dy="8">and</tspan><tspan x="197" dy="8">action</tspan></text></g>
<g id="p-apelin"><circle cx="316" cy="402" r="6.5"/><text font-size="5.2" x="315" y="394.9">Apelin<tspan x="315" dy="8.5">signaling</tspan><tspan x="315" dy="8.5">pathway</tspan></text></g>
<g id="p-thyroid"><circle cx="333" cy="442" r="6.5"/><text font-size="5.5" x="333" y="430">Thyroid<tspan x="333" dy="9">hormone</tspan><tspan x="333" dy="9">signaling</tspan><tspan x="333" dy="9">pathway</tspan></text></g>
<g id="p-gnrh"><circle cx="179" cy="442" r="6.5"/><text font-size="5" x="179" y="434.8">GnRH<tspan x="179" dy="8">signaling</tspan><tspan x="179" dy="8">pathway</tspan></text></g>
<g id="p-gnrh-secretion"><circle cx="184" cy="485" r="6.5"/><text font-size="4.8" x="184" y="483.7">GnRH<tspan x="184" dy="7.5">secretion</tspan></text></g>
<g id="p-focal"><circle cx="327" cy="488" r="6.5"/><text font-size="7.2" x="327" y="482.6">Focal<tspan x="327" dy="10">adhesion</tspan></text></g>
<g id="p-ecm"><circle cx="213" cy="518" r="6.5"/><text font-size="4.6" x="213" y="515.7">ECM-receptor<tspan x="213" dy="8">interaction</tspan></text></g>
<g id="p-mapk"><circle cx="257" cy="532" r="7"/><text font-size="8.8" x="257" y="522.2">MAPK<tspan x="257" dy="12">signaling</tspan><tspan x="257" dy="12">pathway</tspan></text></g>
<g id="p-osteoclast"><circle cx="298" cy="517" r="6.5"/><text font-size="7" x="298" y="516.5">Osteoclast<tspan x="298" dy="9.5">differentiation</tspan></text></g>
<g id="p-hippo"><circle cx="443" cy="481" r="6.5"/><text font-size="5.5" x="443" y="474">Hippo<tspan x="443" dy="8.5">signaling</tspan><tspan x="443" dy="8.5">pathway</tspan></text></g>
<g id="p-cytokine"><circle cx="495" cy="474" r="6.5"/><text font-size="6.5" x="495" y="467.3">Cytokine-cytokine<tspan x="495" dy="9">receptor</tspan><tspan x="495" dy="9">interaction</tspan></text></g>
<g id="p-tcr"><circle cx="546" cy="490" r="6.5"/><text font-size="6.3" x="546" y="474.3">T<tspan x="546" dy="9.5">cell</tspan><tspan x="546" dy="9.5">receptor</tspan><tspan x="546" dy="9.5">signaling</tspan><tspan x="546" dy="9.5">pathway</tspan></text></g>
<g id="p-pluripotency"><circle cx="401" cy="527" r="6.5"/><text font-size="5.5" x="401" y="505">Signaling<tspan x="401" dy="8.2">pathways</tspan><tspan x="401" dy="8.2">regulating</tspan><tspan x="401" dy="8.2">pluripotency</tspan><tspan x="401" dy="8.2">of</tspan><tspan x="401" dy="8.2">stem</tspan><tspan x="401" dy="8.2">cells</tspan></text></g>
<g id="p-prolactin"><circle cx="463" cy="531" r="6.5"/><text font-size="6" x="463" y="524.2">Prolactin<tspan x="463" dy="8.8">signaling</tspan><tspan x="463" dy="8.8">pathway</tspan></text></g>
<g id="p-ctype"><circle cx="508" cy="539" r="6.5"/><text font-size="6.2" x="508" y="523.2">C-type<tspan x="508" dy="9.3">lectin</tspan><tspan x="508" dy="9.3">receptor</tspan><tspan x="508" dy="9.3">signaling</tspan><tspan x="508" dy="9.3">pathway</tspan></text></g>
<g id="p-toll"><circle cx="587" cy="530" r="6.5"/><text font-size="6.8" x="587" y="517.4">Toll-like<tspan x="587" dy="9.7">receptor</tspan><tspan x="587" dy="9.7">signaling</tspan><tspan x="587" dy="9.7">pathway</tspan></text></g>
<g id="p-rig"><circle cx="433" cy="571" r="6.5"/><text font-size="5.3" x="433" y="559.9">RIG-I-like<tspan x="433" dy="8.3">receptor</tspan><tspan x="433" dy="8.3">signaling</tspan><tspan x="433" dy="8.3">pathway</tspan></text></g>
<g id="p-bcr"><circle cx="388" cy="590" r="6.5"/><text font-size="5.2" x="388" y="574.9">B<tspan x="388" dy="8.2">cell</tspan><tspan x="388" dy="8.2">receptor</tspan><tspan x="388" dy="8.2">signaling</tspan><tspan x="388" dy="8.2">pathway</tspan></text></g>
<g id="p-senescence"><circle cx="591" cy="574" r="6.5"/><text font-size="6.5" x="591" y="571.3">Cellular<tspan x="591" dy="10">senescence</tspan></text></g>
<g id="p-th1th2"><circle cx="517" cy="601" r="7"/><text font-size="9" x="517" y="581.2">Th1<tspan x="517" dy="11.3">and</tspan><tspan x="517" dy="11.3">Th2</tspan><tspan x="517" dy="11.3">cell</tspan><tspan x="517" dy="11.3">differentiation</tspan></text></g>
<g id="p-glutathione"><circle cx="464" cy="612" r="6.5"/><text font-size="4.8" x="464" y="609.7">Glutathione<tspan x="464" dy="8">metabolism</tspan></text></g>
<g id="p-jakstat"><circle cx="576" cy="622" r="6.5"/><text font-size="7.5" x="576" y="613.7">JAK-STAT<tspan x="576" dy="10">signaling</tspan><tspan x="576" dy="10">pathway</tspan></text></g>
<g id="p-hematopoietic"><circle cx="413" cy="642" r="6.5"/><text font-size="4.8" x="413" y="634.7">Hematopoietic<tspan x="413" dy="8.5">cell</tspan><tspan x="413" dy="8.5">lineage</tspan></text></g>
<g id="p-iga"><circle cx="469" cy="653" r="6.5"/><text font-size="4.6" x="469" y="639.7">Intestinal<tspan x="469" dy="7.2">immune</tspan><tspan x="469" dy="7.2">network</tspan><tspan x="469" dy="7.2">for</tspan><tspan x="469" dy="7.2">IgA</tspan><tspan x="469" dy="7.2">production</tspan></text></g>
<g id="p-th17"><circle cx="538" cy="655" r="6.5"/><text font-size="7.8" x="538" y="646.8">Th17<tspan x="538" dy="10.5">cell</tspan><tspan x="538" dy="10.5">differentiation</tspan></text></g>
<g id="p-pld"><circle cx="748" cy="467" r="6.5"/><text font-size="5.2" x="748" y="460.9">Phospholipase<tspan x="748" dy="8">D</tspan><tspan x="748" dy="8">signaling</tspan><tspan x="748" dy="8">pathway</tspan></text></g>
<g id="p-serotonergic"><circle cx="699" cy="477" r="6.5"/><text font-size="5.2" x="699" y="475.9">Serotonergic<tspan x="699" dy="6.5">synapse</tspan></text></g>
<g id="p-oxytocin"><circle cx="792" cy="482" r="6.5"/><text font-size="5.2" x="792" y="475.9">Oxytocin<tspan x="792" dy="8">signaling</tspan><tspan x="792" dy="8">pathway</tspan></text></g>
<g id="p-calcium"><circle cx="668" cy="503" r="6.5"/><text font-size="5.2" x="668" y="497.9">Calcium<tspan x="668" dy="7.5">signaling</tspan><tspan x="668" dy="7.5">pathway</tspan></text></g>
<g id="p-cgmp"><circle cx="818" cy="514" r="6.5"/><text font-size="5.2" x="818" y="507.9">cGMP-PKG<tspan x="818" dy="7.7">signaling</tspan><tspan x="818" dy="7.7">pathway</tspan></text></g>
<g id="p-metabolic"><circle cx="741" cy="520" r="6.5"/><text font-size="7" x="741" y="518.5">Metabolic<tspan x="741" dy="8.5">pathways</tspan></text></g>
<g id="p-arachidonic"><circle cx="658" cy="544" r="6.5"/><text font-size="5.2" x="658" y="538.9">Arachidonic<tspan x="658" dy="7.5">acid</tspan><tspan x="658" dy="7.5">metabolism</tspan></text></g>
<g id="p-sphingolipid"><circle cx="823" cy="552" r="6.5"/><text font-size="6" x="823" y="545.2">Sphingolipid<tspan x="823" dy="9">signaling</tspan><tspan x="823" dy="9">pathway</tspan></text></g>
<g id="p-trp"><circle cx="715" cy="577" r="6.5"/><text font-size="5" x="715" y="554.8">Inflammatory<tspan x="715" dy="7.9">mediator</tspan><tspan x="715" dy="7.9">regulation</tspan><tspan x="715" dy="7.9">of</tspan><tspan x="715" dy="7.9">TRP</tspan><tspan x="715" dy="7.9">channels</tspan></text></g>
<g id="p-estrogen"><circle cx="777" cy="567" r="6.5"/><text font-size="6.8" x="777" y="560.4">Estrogen<tspan x="777" dy="9">signaling</tspan><tspan x="777" dy="9">pathway</tspan></text></g>
<g id="p-dopaminergic"><circle cx="665" cy="580" r="6.5"/><text font-size="4.8" x="665" y="578.7">Dopaminergic<tspan x="665" dy="7.3">synapse</tspan></text></g>
<g id="p-neuroactive"><circle cx="822" cy="587" r="6.5"/><text font-size="6" x="822" y="580.2">Neuroactive<tspan x="822" dy="9">ligand-receptor</tspan><tspan x="822" dy="9">interaction</tspan></text></g>
<g id="p-gap"><circle cx="677" cy="613" r="6.5"/><text font-size="4.8" x="677" y="610.7">Gap<tspan x="677" dy="7.5">junction</tspan></text></g>
<g id="p-camp"><circle cx="797" cy="624" r="6.5"/><text font-size="5.8" x="797" y="617.1">cAMP<tspan x="797" dy="9">signaling</tspan><tspan x="797" dy="9">pathway</tspan></text></g>
<g id="p-renin"><circle cx="705" cy="636" r="6.5"/><text font-size="4.8" x="705" y="634.7">Renin<tspan x="705" dy="7.5">secretion</tspan></text></g>
<g id="p-neurotrophin"><circle cx="752" cy="639" r="6.5"/><text font-size="6.5" x="752" y="632.3">Neurotrophin<tspan x="752" dy="9.5">signaling</tspan><tspan x="752" dy="9.5">pathway</tspan></text></g>
<g id="p-vegf"><circle cx="943" cy="422" r="6.5"/><text font-size="4.8" x="943" y="415.7">VEGF<tspan x="943" dy="7.5">signaling</tspan><tspan x="943" dy="7.5">pathway</tspan></text></g>
<g id="p-hif1"><circle cx="982" cy="433" r="6.5"/><text font-size="6.3" x="982" y="425.3">HIF-1<tspan x="982" dy="10">signaling</tspan><tspan x="982" dy="10">pathway</tspan></text></g>
<g id="p-tgfb"><circle cx="915" cy="446" r="6.5"/><text font-size="4.8" x="915" y="438.7">TGF-beta<tspan x="915" dy="8">signaling</tspan><tspan x="915" dy="8">pathway</tspan></text></g>
<g id="p-foxo"><circle cx="994" cy="479" r="6.5"/><text font-size="7" x="994" y="470.5">FoxO<tspan x="994" dy="10.5">signaling</tspan><tspan x="994" dy="10.5">pathway</tspan></text></g>
<g id="p-notch"><circle cx="913" cy="479" r="6.5"/><text font-size="4.5" x="913" y="473.6">Notch<tspan x="913" dy="7">signaling</tspan><tspan x="913" dy="7">pathway</tspan></text></g>
<g id="p-pi3k"><circle cx="953" cy="502" r="7.5"/><text font-size="9.5" x="953" y="493.4">PI3K-Akt<tspan x="953" dy="12.5">signaling</tspan><tspan x="953" dy="12.5">pathway</tspan></text></g>
</g>
<g class="cat">
<g id="c-blood"><rect x="51" y="233" width="21" height="21"/><text x="59" y="224">Improve</text><text x="59" y="250">blood</text><text x="59" y="275">circulation</text></g>
<g id="c-anti-inflammation"><rect x="1163" y="247" width="22" height="22"/><text x="1173" y="264" font-size="18">Anti-inflammation</text></g>
<g id="c-cartilage"><rect x="247" y="637" width="21" height="21"/><text x="255" y="602">Inhibits</text><text x="255" y="627">cartilage</text><text x="255" y="653">and</text><text x="255" y="679">bone</text><text x="255" y="704">damage</text></g>
<g id="c-immune"><rect x="490" y="736" width="21" height="21"/><text x="499" y="727">Immune</text><text x="499" y="753">system</text><text x="499" y="778">regulation</text></g>
<g id="c-analgesia"><rect x="740" y="735" width="21" height="21"/><text x="750" y="712">Central</text><text x="750" y="738">and</text><text x="750" y="764">peripheral</text><text x="750" y="790">analgesia</text></g>
<g id="c-angiogenesis"><rect x="947" y="564" width="21" height="21"/><text x="955" y="581">Angiogenesis</text></g>
</g>
<g id="n-ra"><polygon points="602,845 589,871 615,871" fill="#c5c200"/><text x="602" y="852" font-weight="bold" font-size="24" fill="#e8164b" text-anchor="middle">Rheumatoid</text><text x="602" y="883" font-weight="bold" font-size="24" fill="#e8164b" text-anchor="middle">arthritis</text></g>
</svg>
